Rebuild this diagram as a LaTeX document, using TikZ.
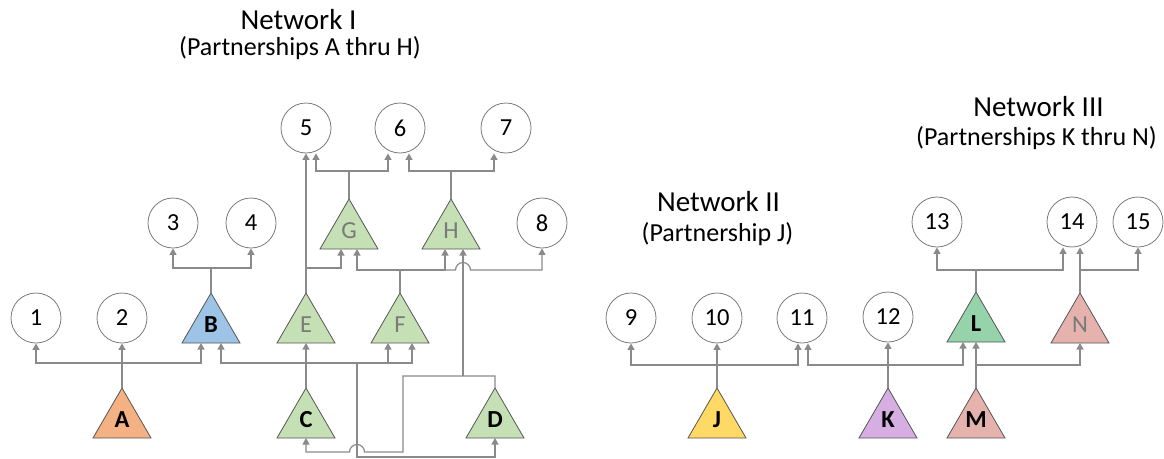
\documentclass[tikz,border=0pt]{standalone}
\usepackage{fontspec}
\setmainfont{Carlito}
\usetikzlibrary{arrows.meta,backgrounds}
\definecolor{lineg}{HTML}{8A8A8A}
\definecolor{circg}{HTML}{7A7A7A}
\definecolor{trig}{HTML}{555555}
\definecolor{labg}{HTML}{7A7A7A}
\definecolor{fA}{HTML}{F4B183}
\definecolor{fB}{HTML}{9DC3E6}
\definecolor{fG}{HTML}{C5E0B4}
\definecolor{fJ}{HTML}{FFD966}
\definecolor{fK}{HTML}{D6AEE2}
\definecolor{fL}{HTML}{96D3AA}
\definecolor{fM}{HTML}{E6B2AD}
\newcommand\tlab[1]{\raisebox{-14.5pt}[0pt][0pt]{#1}}
\tikzset{
  conn/.style={draw=lineg, line width=1.2pt, -{Triangle[width=7pt,length=6.5pt]}},
  circ/.style={circle, draw=circg, line width=0.8pt, minimum size=50pt, inner sep=0pt,
    font=\fontsize{24.5}{24.5}\selectfont},
  tribox/.style={rectangle, minimum width=58pt, minimum height=50pt, inner sep=0pt,
    outer sep=0pt, font=\fontsize{24.5}{24.5}\selectfont\bfseries},
  trilight/.style={tribox, font=\fontsize{24.5}{24.5}\selectfont, text=labg},
  tishape/.style={draw=trig, line width=0.8pt, line join=miter},
  ttl/.style={anchor=base, inner sep=0pt, font=\fontsize{29}{29}\selectfont},
  sttl/.style={anchor=base, inner sep=0pt, font=\fontsize{26}{26}\selectfont},
}
\begin{document}
\begin{tikzpicture}[x=1pt,y=-1pt]
\useasboundingbox (0,0) rectangle (1164,458);
% titles
\node[ttl] (t1) at (298.5,29.3) {Network I};
\node[sttl] (s1) at (300,55) {(Partnerships A thru H)};
\node[ttl] (t2) at (718.5,211) {Network II};
\node[sttl] (s2) at (717.5,241) {(Partnership J)};
\node[ttl] (t3) at (1038.5,116.5) {Network III};
\node[sttl] (s3) at (1036.5,145.5) {(Partnerships K thru N)};
% circles
\node[circ] (n1) at (36,318) {1};
\node[circ] (n2) at (122,318) {2};
\node[circ] (n3) at (173,223) {3};
\node[circ] (n4) at (251,223) {4};
\node[circ] (n5) at (306,128) {5};
\node[circ] (n6) at (400,128) {6};
\node[circ] (n7) at (506,128) {7};
\node[circ] (n8) at (542,223) {8};
\node[circ] (n9) at (631,318) {9};
\node[circ] (n10) at (717,318) {10};
\node[circ] (n11) at (802,318) {11};
\node[circ] (n12) at (888,317) {12};
\node[circ] (n13) at (937,222) {13};
\node[circ] (n14) at (1072,222) {14};
\node[circ] (n15) at (1138,222) {15};
% triangles
\node[tribox] (A) at (122,413) {\tlab{A}};
\node[tribox] (B) at (211,318) {\tlab{B}};
\node[tribox] (C) at (306,413) {\tlab{C}};
\node[tribox] (D) at (495,413) {\tlab{D}};
\node[trilight] (E) at (306,318) {\tlab{E}};
\node[trilight] (F) at (400,318) {\tlab{F}};
\node[trilight] (G) at (349,224) {\tlab{G}};
\node[trilight] (H) at (451,224) {\tlab{H}};
\node[tribox] (J) at (717,413) {\tlab{J}};
\node[tribox] (K) at (888,413) {\tlab{K}};
\node[tribox] (L) at (976,317) {\tlab{L}};
\node[tribox] (M) at (976,413) {\tlab{M}};
\node[trilight] (N) at (1080,318) {\tlab{N}};
\begin{scope}[on background layer]
\foreach \n/\c in {A/fA,B/fB,C/fG,D/fG,E/fG,F/fG,G/fG,H/fG,J/fJ,K/fK,L/fL,M/fM,N/fM}
  \filldraw[tishape, fill=\c] (\n.south west) -- (\n.south east) -- (\n.north) -- cycle;
\end{scope}
\coordinate (cD) at (357,363);
% A
\draw[conn] (A.north) -- (n2.south);
\draw[conn] (A.north |- 0,363) -| (n1.south);
\draw[conn] (A.north |- 0,363) -| ([xshift=-10pt]B.south);
% B
\draw[conn] (B.north) -- (B.north |- 0,268) -| (n3.south);
\draw[conn] (B.north |- 0,268) -| (n4.south);
% C
\draw[conn] (C.north) -- (E.south);
\draw[conn] (C.north |- 0,363) -| ([xshift=10pt]B.south);
\draw[conn] (C.north |- 0,363) -| ([xshift=-12pt]F.south);
\draw[conn] (C.north |- 0,363) -| ([xshift=12pt]F.south);
\draw[conn] (cD) -- (cD |- 0,457) -| (D.south);
% D
\draw[conn] (D.north) -- (D.north |- 0,376) -- (403,376) -- (403,452) -- (364.5,452)
  arc[start angle=0, end angle=180, radius=7.5pt] -- (C.south |- 0,452) -- (C.south);
\draw[conn] ([xshift=12pt]H.south |- 0,376) -- ([xshift=12pt]H.south);
% E
\draw[conn] (E.north) -- (n5.south);
\draw[conn] (E.north |- 0,268) -| ([xshift=-8pt]G.south);
% F
\draw[conn] (F.north) -- (F.north |- 0,270) -| ([xshift=8pt]G.south);
\draw[conn] (F.north |- 0,270) -| ([xshift=-6pt]H.south);
\draw[conn] (F.north |- 0,270) -- (455.5,270)
  arc[start angle=180, end angle=0, radius=7.5pt] -- (n8.south |- 0,270) -- (n8.south);
% G
\draw[conn] (G.north) -- (G.north |- 0,171) -| ([xshift=10pt]n5.south);
\draw[conn] (G.north |- 0,171) -| ([xshift=-12pt]n6.south);
% H
\draw[conn] (H.north) -- (H.north |- 0,171) -| ([xshift=9pt]n6.south);
\draw[conn] (H.north |- 0,171) -| ([xshift=-12pt]n7.south);
% J
\draw[conn] (J.north) -- (n10.south);
\draw[conn] (J.north |- 0,365) -| (n9.south);
\draw[conn] (J.north |- 0,365) -| ([xshift=-4pt]n11.south);
% K
\draw[conn] (K.north) -- (n12.south);
\draw[conn] (K.north |- 0,365) -| ([xshift=6pt]n11.south);
\draw[conn] (K.north |- 0,365) -| ([xshift=-13pt]L.south);
% L
\draw[conn] (L.north) -- (L.north |- 0,270) -| (n13.south);
\draw[conn] (L.north |- 0,270) -| ([xshift=-9pt]n14.south);
% M
\draw[conn] (M.north) -- (L.south);
\draw[conn] (M.north |- 0,365) -| (N.south);
% N
\draw[conn] (N.north) -- ([xshift=8pt]n14.south);
\draw[conn] (N.north |- 0,270) -| (n15.south);
\end{tikzpicture}
\end{document}
